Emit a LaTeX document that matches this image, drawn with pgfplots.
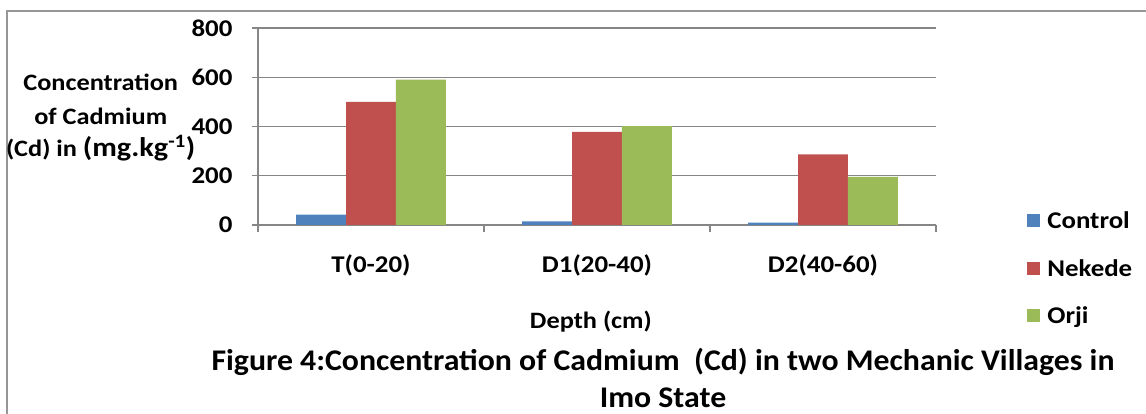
\documentclass[border=0pt]{standalone}
\usepackage{fontspec}
\setmainfont{Carlito}
\newfontfamily\lab[FakeStretch=1.12]{Carlito}
\newfontfamily\capfont[FakeStretch=1.06]{Carlito}
\usepackage{pgfplots}
\pgfplotsset{compat=1.18}
\definecolor{cA}{RGB}{79,129,189}
\definecolor{cB}{RGB}{192,80,77}
\definecolor{cC}{RGB}{155,187,89}
\definecolor{gline}{RGB}{134,134,134}
\definecolor{frame}{RGB}{150,150,150}
\pgfplotstableread{
x control nekede orji
0 42 500 590
1 15 378 402
2 10 287 195
}\datatable
\begin{document}
\begin{tikzpicture}[x=1pt,y=1pt]
\path[use as bounding box] (0,0) rectangle (1146,414);
\draw[frame, line width=2.5pt] (7,0) -- (7,403) -- (1146,403);
\begin{axis}[
  at={(258pt,189pt)}, anchor=south west,
  scale only axis, width=678pt, height=197pt,
  ybar=0pt, bar width=0.221,
  xmin=-0.5, xmax=2.5, ymin=0, ymax=800,
  xtick={0,1,2}, xticklabels={T(0-20),D1(20-40),D2(40-60)},
  minor xtick={-0.5,0.5,1.5,2.5},
  ytick={0,200,400,600,800},
  axis x line*=bottom, axis y line*=left,
  axis line style={gline, line width=1.2pt},
  tick align=outside, major tick length=6pt, minor tick length=7pt,
  major x tick style={draw=none},
  minor tick style={gline, line width=1.2pt},
  major y tick style={gline, line width=1.2pt},
  ymajorgrids, grid style={gline, line width=1.2pt},
  /pgf/number format/assume math mode=true,
  yticklabel style={font=\lab\bfseries\fontsize{24}{28}\selectfont, xshift=-16pt},
  xticklabel style={font=\lab\bfseries\fontsize{24}{28}\selectfont, yshift=-20pt},
  every axis y label/.style={at={(axis description cs:-0.232,0.543)}, anchor=center, align=center, font=\lab\bfseries\fontsize{23.5}{33}\selectfont},
  ylabel={Concentration\\of Cadmium\\(Cd) in {\fontsize{27}{33}\selectfont(mg.kg\textsuperscript{-1})}},
  every axis x label/.style={at={(axis description cs:0.491,-0.492)}, anchor=center, font=\lab\bfseries\fontsize{23.5}{26}\selectfont},
  xlabel={Depth (cm)},
  legend style={at={(axis description cs:1.13,-0.22)}, anchor=west, draw=none, fill=none,
    font=\lab\bfseries\fontsize{24}{28}\selectfont, row sep=25pt, column sep=5pt},
  legend image code/.code={\fill[#1] (0pt,-6.5pt) rectangle (13pt,6.5pt);},
  legend cell align=left,
]
\addplot[fill=cA, draw=none] table[x=x, y=control] {\datatable};
\addplot[fill=cB, draw=none] table[x=x, y=nekede] {\datatable};
\addplot[fill=cC, draw=none] table[x=x, y=orji] {\datatable};
\legend{Control, Nekede, Orji}
\end{axis}
\node[align=center, font=\capfont\bfseries\fontsize{30}{37}\selectfont] at (663,36) {Figure 4:Concentration of Cadmium\ \ (Cd) in two Mechanic Villages in\\Imo State};
\end{tikzpicture}
\end{document}
